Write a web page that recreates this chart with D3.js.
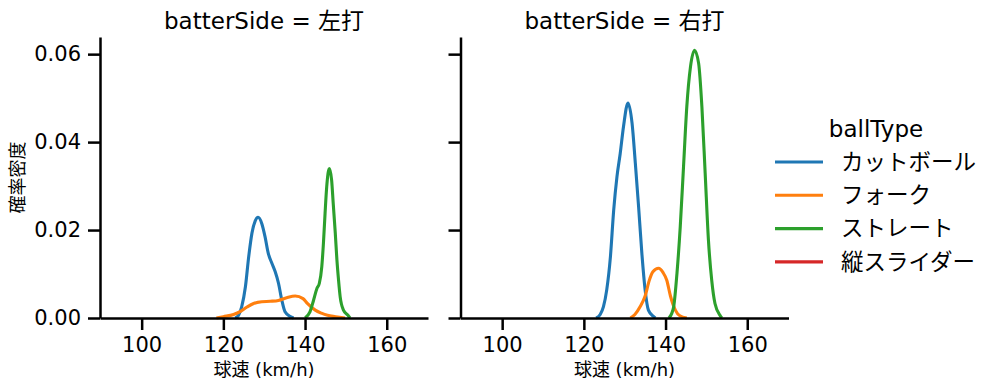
<!DOCTYPE html>
<html>
<head>
<meta charset="utf-8">
<script src="https://cdn.jsdelivr.net/npm/d3@7"></script>
<style>
  body { margin: 0; background: #fff; }
  svg { display: block; font-family: "DejaVu Sans", "Noto Sans CJK JP", sans-serif; }
</style>
</head>
<body>
<svg id="chart" width="997" height="391"></svg>
<script>
const ballTypes = ["カットボール", "フォーク", "ストレート", "縦スライダー"];
const colors = ["#1f77b4", "#ff7f0e", "#2ca02c", "#d62728"];
const panels = ["左打", "右打"];
const xTicks = [100, 120, 140, 160];
const yTicks = [0, 0.02, 0.04, 0.06];

// [球速, 確率密度]
const leftCut = [[122.9,0],[123.7,0.0006],[124.5,0.0026],[125.4,0.0071],[126.2,0.0139],[127.0,0.0193],[127.8,0.0221],[128.5,0.0229],[129.4,0.0215],[130.2,0.0185],[131.0,0.0147],[131.9,0.0124],[132.7,0.0105],[133.5,0.0079],[134.3,0.0041],[135.1,0.0014],[136.4,0.0003],[137.2,0]];
const leftFork = [[118.3,0],[120.0,0.0003],[122.5,0.0008],[124.2,0.0015],[125.8,0.0025],[127.4,0.0033],[129.4,0.0037],[131.5,0.0038],[133.5,0.0040],[135.5,0.0046],[137.6,0.0050],[139.5,0.0044],[140.5,0.0034],[142.5,0.0018],[144.0,0.0011],[145.5,0.0006],[147.5,0.0003],[149.8,0]];
const leftStraight = [[140.0,0],[141.2,0.0014],[142.1,0.0041],[142.9,0.0067],[143.5,0.0079],[144.1,0.0117],[144.5,0.0170],[144.9,0.0238],[145.3,0.0298],[145.95,0.0340],[146.5,0.0314],[146.9,0.0260],[147.4,0.0193],[147.8,0.0132],[148.2,0.0086],[148.6,0.0048],[149.4,0.0018],[150.6,0.0005],[151.0,0]];
const leftSlider = [];

const rightCut = [[123.0,0],[124.0,0.0008],[124.8,0.0026],[125.6,0.0064],[126.5,0.0139],[127.3,0.0245],[128.1,0.0321],[128.9,0.0374],[129.7,0.0435],[130.8,0.0489],[131.8,0.0443],[132.6,0.0352],[133.4,0.0253],[134.2,0.0147],[135.0,0.0064],[135.8,0.0018],[137.1,0.0003],[137.5,0]];
const rightFork = [[131.4,0],[132.5,0.0008],[133.8,0.0026],[135.0,0.0050],[136.0,0.0085],[136.9,0.0105],[138.3,0.0113],[139.4,0.0103],[140.3,0.0086],[141.2,0.0050],[142.4,0.0018],[143.5,0.0005],[145.2,0]];
const rightStraight = [[140.8,0],[141.5,0.0010],[142.0,0.0026],[142.8,0.0102],[143.6,0.0208],[144.4,0.0344],[145.2,0.0480],[146.1,0.0571],[147.1,0.0609],[148.1,0.0579],[148.9,0.0480],[149.7,0.0329],[150.5,0.0177],[151.3,0.0086],[152.1,0.0033],[153.4,0.0005],[153.8,0]];
const rightSlider = [];

const panelData = [
    [leftCut, leftFork, leftStraight, leftSlider],
    [rightCut, rightFork, rightStraight, rightSlider]
];

const svg = d3.select("#chart");
const plotTop = 37, plotBottom = 318;
const panelLeft = [100, 460.5];
const panelWidth = 328;

const y = d3.scaleLinear().domain([0, 0.0639]).range([plotBottom, plotTop]);

panels.forEach((side, p) => {
    const x0 = panelLeft[p];
    const x = d3.scaleLinear().domain([89.8, 170.1]).range([x0, x0 + panelWidth]);
    const g = svg.append("g");

    const line = d3.line()
        .x(d => x(d[0]))
        .y(d => y(d[1]))
        .curve(d3.curveMonotoneX);

    panelData[p].forEach((pts, i) => {
        if (!pts.length) return;
        g.append("path")
            .attr("d", line(pts))
            .attr("fill", "none")
            .attr("stroke", colors[i])
            .attr("stroke-width", 3.1)
            .attr("stroke-linejoin", "round");
    });

    const xAxis = g.append("g")
        .attr("transform", `translate(0,${plotBottom})`)
        .call(d3.axisBottom(x).tickValues(xTicks).tickSize(12).tickSizeOuter(0).tickPadding(7));

    const yAxis = g.append("g")
        .attr("transform", `translate(${x0},0)`)
        .call(d3.axisLeft(y).tickValues(yTicks).tickSize(12).tickSizeOuter(0).tickPadding(7)
            .tickFormat(p === 0 ? d3.format(".2f") : () => ""));

    [xAxis, yAxis].forEach(a => {
        a.select(".domain").attr("stroke", "#000").attr("stroke-width", 2.5);
        a.selectAll(".tick line").attr("stroke", "#000").attr("stroke-width", 2.5);
        a.selectAll(".tick text")
            .attr("fill", "#000")
            .style("font-size", "21px")
            .style("font-family", "'DejaVu Sans', sans-serif");
    });

    g.append("text")
        .attr("x", x0 + panelWidth / 2)
        .attr("y", 29)
        .attr("text-anchor", "middle")
        .style("font-size", "23px")
        .text(`batterSide = ${side}`);

    g.append("text")
        .attr("x", x0 + panelWidth / 2)
        .attr("y", 376)
        .attr("text-anchor", "middle")
        .style("font-size", "18px")
        .text("球速 (km/h)");
});

svg.append("text")
    .attr("transform", `translate(24,${(plotTop + plotBottom) / 2}) rotate(-90)`)
    .attr("text-anchor", "middle")
    .style("font-size", "18px")
    .text("確率密度");

// legend
const legend = svg.append("g");
legend.append("text")
    .attr("x", 876)
    .attr("y", 137)
    .attr("text-anchor", "middle")
    .style("font-size", "23px")
    .text("ballType");

ballTypes.forEach((name, i) => {
    const ly = 162 + i * 33.3;
    legend.append("line")
        .attr("x1", 775).attr("x2", 823)
        .attr("y1", ly).attr("y2", ly)
        .attr("stroke", colors[i])
        .attr("stroke-width", 3.1);
    legend.append("text")
        .attr("x", 841)
        .attr("y", ly)
        .attr("dy", "0.35em")
        .style("font-size", "22.5px")
        .text(name);
});
</script>
</body>
</html>
